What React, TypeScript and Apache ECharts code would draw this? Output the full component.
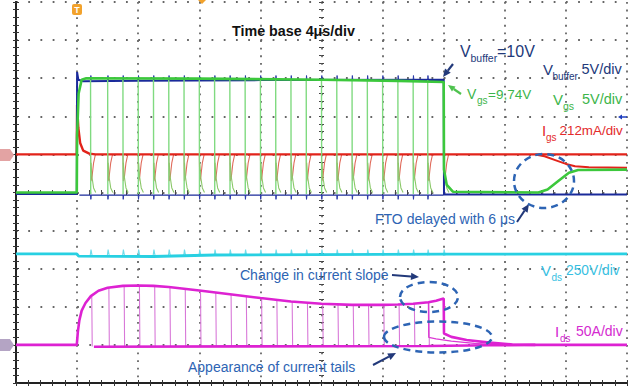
import React, { useEffect, useRef } from "react";
import * as echarts from "echarts";

// Horizontal: time in µs (4 µs/div, 10 div). Vertical: screen divisions (0..10).
const pulseTimes = [4.88, 6, 7, 8, 9, 10, 11, 12, 13, 14, 15, 16, 17, 18, 19, 20, 21, 22, 23, 24, 25, 26, 26.95];
const finalOff = 28.0;
const idsPulseTop = [2.28, 2.5, 2.55, 2.56, 2.55, 2.52, 2.48, 2.43, 2.38, 2.33, 2.28, 2.23, 2.18, 2.14, 2.11, 2.08, 2.06, 2.05, 2.05, 2.05, 2.06, 2.08, 2.12];

const vbufferTrace = [[0, 4.96], [3.98, 4.96], [4.0, 8.16], [4.08, 7.96], [4.4, 7.92], [8, 7.93], [16, 7.95], [28.0, 7.96], [28.02, 4.95], [40, 4.95]];
const vbufferLow = [[4.15, 4.93], [28, 4.93]];
const vgsTrace = [[0, 5.0], [3.98, 5.0], [4.0, 6.5], [4.1, 7.6], [4.3, 7.96], [4.6, 8.0], [12, 7.99], [20, 7.96], [25, 7.93], [28.0, 7.9], [28.02, 5.6], [28.2, 5.2], [28.6, 5.02], [34.2, 5.0], [34.8, 5.08], [35.5, 5.3], [36.2, 5.52], [36.8, 5.59], [40, 5.6]];
const igsTrace = [[0, 6.0], [3.98, 6.0], [4.0, 7.3], [4.08, 6.7], [4.2, 6.3], [4.4, 6.1], [4.8, 6.02], [5.2, 6.0], [40, 6.0]];
const igsFtoBranch = [[34.0, 6.0], [34.6, 5.95], [35.3, 5.85], [36.0, 5.75], [36.6, 5.69], [37.5, 5.66], [40, 5.65]];
const vdsTrace = [[0, 3.39], [3.98, 3.39], [4.1, 3.33], [9, 3.32], [13, 3.36], [28, 3.38], [40, 3.39]];
const idsEnvelope = [[0, 1.0], [3.98, 1.0], [4.05, 1.35], [4.15, 1.65], [4.3, 1.9], [4.55, 2.1], [4.9, 2.28], [5.4, 2.42], [6, 2.5], [7, 2.55], [8, 2.56], [9, 2.55], [10, 2.52], [12, 2.43], [14, 2.33], [16, 2.23], [18, 2.14], [20, 2.08], [22, 2.05], [24, 2.05], [25, 2.06], [26, 2.08], [27, 2.12], [27.5, 2.16], [28.0, 2.22], [28.02, 1.3], [28.5, 1.21], [29.5, 1.13], [31, 1.06], [32.5, 1.01], [34, 1.0], [40, 1.0]];
const idsLow = [[5.1, 0.95], [15, 0.96], [27, 0.97], [31, 0.99], [34, 1.0]];
const idsTail = [[27.0, 2.12], [27.02, 1.2], [27.5, 1.16], [28.5, 1.1], [30, 1.04], [31.7, 1.0]];

// pulse shapes: [offset µs, level div]
const vgsEdge = [[0, 7.95], [0.012, 4.96]];
const vgsRecovery = [[0.03, 5.78], [0.09, 5.42], [0.2, 5.12], [0.34, 5.0]];
const igsDip = [[0, 6.0], [0.03, 5.3], [0.1, 5.42], [0.2, 5.78], [0.32, 6.0]];
const vdsSpike = [[-0.02, 3.35], [0.03, 3.5], [0.1, 3.35]];
const vbufSpikeHigh = [[0, 7.95], [0.02, 8.07], [0.05, 7.95]];
const vbufSpikeLow = [[0, 4.93], [0.02, 4.82], [0.05, 4.93]];

const build = (times: number[], shape: number[][]) =>
  times.flatMap((t) => [...shape.map(([dt, v]) => [t + dt, v]), [t, "-"]]);

const FONT = '"Liberation Sans", Arial, Helvetica, sans-serif';

function txt(x: number, y: number, s: string, size: number, color: string, weight = "normal") {
  return {
    type: "text",
    x,
    y,
    z: 100,
    style: { text: s, fill: color, fontSize: size, fontFamily: FONT, fontWeight: weight, align: "left", verticalAlign: "middle" },
  };
}

function arrow(x1: number, y1: number, x2: number, y2: number, color: string, w = 2, head = 8) {
  const a = Math.atan2(y2 - y1, x2 - x1);
  const hx = x2 - head * Math.cos(a);
  const hy = y2 - head * Math.sin(a);
  const px = -Math.sin(a) * head * 0.45;
  const py = Math.cos(a) * head * 0.45;
  return [
    { type: "line", z: 100, shape: { x1, y1, x2: hx, y2: hy }, style: { stroke: color, lineWidth: w } },
    { type: "polygon", z: 100, shape: { points: [[x2, y2], [hx + px, hy + py], [hx - px, hy - py]] }, style: { fill: color } },
  ];
}

function ell(cx: number, cy: number, rx: number, ry: number, color: string) {
  return { type: "ellipse", z: 100, shape: { cx, cy, rx, ry }, style: { fill: "transparent", stroke: color, lineWidth: 2.5, lineDash: [7, 5] } };
}

const NAVY = "#22397a";
const ABLUE = "#2d64b4";
const GREEN_T = "#3cb54a";
const RED_T = "#e32b2b";
const CYAN_T = "#38bfe2";
const MAG_T = "#d42ad0";

function line(data: any[], color: string, width: number, z = 2) {
  return {
    type: "line",
    xAxisIndex: 0,
    yAxisIndex: 0,
    data,
    showSymbol: false,
    symbol: "none",
    connectNulls: false,
    z,
    lineStyle: { color, width },
    itemStyle: { color },
    silent: true,
  };
}

export default function App() {
  const ref = useRef<HTMLDivElement>(null);
  useEffect(() => {
    if (!ref.current) return;
    const chart = echarts.init(ref.current, undefined, { renderer: "svg" });
    const gridRect = { left: 16, top: 2, width: 611, height: 381 };
    const tick = { show: true, inside: true, length: 3, lineStyle: { color: "#333", width: 1 } };
    const minor = { show: true, splitNumber: 5, length: 3, lineStyle: { color: "#333", width: 1 } };
    const border = { show: true, lineStyle: { color: "#222", width: 2 } };
    const ctrTick = { show: true, inside: false, length: 2.5, lineStyle: { color: "#444", width: 1 } };
    const ctrMinor = { show: true, splitNumber: 5, length: 2.5, lineStyle: { color: "#444", width: 1 } };

    const elements: any[] = [
      txt(232, 31, "Time base 4μs/div", 14.3, "#111", "bold"),
      txt(460, 51, "V", 16, NAVY), txt(470.5, 58, "buffer", 10.5, NAVY), txt(497, 51, "=10V", 16, NAVY),
      txt(543, 69, "V", 15, NAVY), txt(552.5, 76, "buffer", 10, NAVY), txt(581.5, 69, "5V/div", 14.5, NAVY),
      txt(467, 94, "V", 14, GREEN_T), txt(477, 100, "gs", 10, GREEN_T), txt(488, 94, "=9,74V", 13.5, GREEN_T),
      txt(553, 99, "V", 15, GREEN_T), txt(563, 106, "gs", 10.5, GREEN_T), txt(582, 99, "5V/div", 14.5, GREEN_T),
      txt(542, 130, "I", 15, RED_T), txt(546, 137, "gs", 10, RED_T), txt(559.5, 130, "212mA/div", 13.4, RED_T),
      txt(375, 219, "FTO delayed with 6 μs", 14, ABLUE),
      txt(541, 270, "V", 15, CYAN_T), txt(551.5, 277.5, "ds", 10, CYAN_T), txt(566, 270, "250V/div", 13.8, CYAN_T),
      txt(240, 274.5, "Change in current slope", 14, ABLUE),
      txt(555, 331, "I", 15, MAG_T), txt(560, 338, "ds", 10, MAG_T), txt(576, 331, "50A/div", 14, MAG_T),
      txt(188, 366.5, "Appearance of current tails", 14, ABLUE),
      ...arrow(453, 64, 443, 77, NAVY, 2.2, 8),
      ...arrow(461, 94, 448, 85, "#4ec24e", 2.2, 7),
      ...arrow(517, 222, 529, 204, NAVY, 2, 8),
      ...arrow(392, 275, 419, 277, NAVY, 2, 8),
      ...arrow(373, 365, 396, 353, NAVY, 2, 8),
      ell(544, 181, 30, 27, ABLUE),
      ell(429, 297, 29, 15, ABLUE),
      ell(438, 337, 54, 15.5, ABLUE),
      { type: "polygon", z: 100, shape: { points: [[0, 149], [10, 149], [14, 155], [10, 161], [0, 161]] }, style: { fill: "#e3a3a3" } },
      { type: "polygon", z: 100, shape: { points: [[0, 339], [10, 339], [14, 345], [10, 351], [0, 351]] }, style: { fill: "#b4a4c4" } },
      { type: "polygon", z: 100, shape: { points: [[618, 117], [622, 114.5], [622, 119.5]] }, style: { fill: "#1f3fbf" } },
      { type: "line", z: 100, shape: { x1: 621, y1: 117, x2: 627, y2: 117 }, style: { stroke: "#1f3fbf", lineWidth: 1.5 } },
      { type: "rect", z: 100, shape: { x: 72, y: 4, width: 10, height: 11, r: 2 }, style: { fill: "#f2a22c" } },
      { type: "text", z: 101, x: 77, y: 9.5, style: { text: "T", fill: "#fff", fontSize: 9, fontWeight: "bold", fontFamily: FONT, align: "center", verticalAlign: "middle" } },
      { type: "polygon", z: 100, shape: { points: [[198, 0], [206, 0], [202, 4]] }, style: { fill: "#f2a22c" } },
    ];

    chart.setOption({
      animation: false,
      backgroundColor: "#ffffff",
      grid: [
        { ...gridRect },
        { ...gridRect },
      ],
      xAxis: [
        {
          gridIndex: 0, type: "value", min: 0, max: 40, interval: 4, position: "bottom",
          axisLine: border, axisTick: tick, minorTick: minor, axisLabel: { show: false },
          splitLine: { show: true, lineStyle: { color: "#666", width: 1.8, type: [1.8, 5.82] } },
        },
        {
          gridIndex: 0, type: "value", min: 0, max: 40, interval: 4, position: "top",
          axisLine: border, axisTick: tick, minorTick: minor, axisLabel: { show: false }, splitLine: { show: false },
        },
        {
          gridIndex: 1, type: "value", min: -20, max: 20, interval: 4, position: "bottom",
          axisLine: { show: false, onZero: true }, axisTick: ctrTick, minorTick: ctrMinor, axisLabel: { show: false }, splitLine: { show: false },
        },
        {
          gridIndex: 1, type: "value", min: -20, max: 20, interval: 4, position: "top",
          axisLine: { show: false, onZero: true }, axisTick: ctrTick, minorTick: ctrMinor, axisLabel: { show: false }, splitLine: { show: false },
        },
      ],
      yAxis: [
        {
          gridIndex: 0, type: "value", min: 0, max: 10, interval: 1, position: "left",
          axisLine: border, axisTick: tick, minorTick: minor, axisLabel: { show: false },
          splitLine: { show: true, lineStyle: { color: "#666", width: 1.8, type: [1.8, 10.42] } },
        },
        {
          gridIndex: 0, type: "value", min: 0, max: 10, interval: 1, position: "right",
          axisLine: border, axisTick: tick, minorTick: minor, axisLabel: { show: false }, splitLine: { show: false },
        },
        {
          gridIndex: 1, type: "value", min: -5, max: 5, interval: 1, position: "left",
          axisLine: { show: false, onZero: true }, axisTick: ctrTick, minorTick: ctrMinor, axisLabel: { show: false }, splitLine: { show: false },
        },
        {
          gridIndex: 1, type: "value", min: -5, max: 5, interval: 1, position: "right",
          axisLine: { show: false, onZero: true }, axisTick: ctrTick, minorTick: ctrMinor, axisLabel: { show: false }, splitLine: { show: false },
        },
      ],
      series: [
        line(build([...pulseTimes, finalOff], vdsSpike), "#72dcea", 1.1),
        line(vdsTrace, "#28d0e2", 2.8),
        line(pulseTimes.flatMap((t, i) => [[t + 0.08, idsPulseTop[i]], [t + 0.11, 0.96], [t, "-"]]), "#d878d8", 1.1),
        line(idsTail, "#dc3ad4", 1.3),
        line(idsLow, "#dd22d2", 2.6),
        line(idsEnvelope, "#dd22d2", 2.6),
        line(build([...pulseTimes, finalOff], igsDip), "#e06a5a", 1.1),
        line(igsTrace, "#e2231a", 2.4),
        line(igsFtoBranch, "#e2231a", 2),
        line(vbufferLow, "#1a2a9a", 1.4),
        line(build(pulseTimes, vbufSpikeHigh), "#2a3aa8", 1),
        line(build(pulseTimes, vbufSpikeLow), "#2a3aa8", 1),
        line(vbufferTrace, "#1a2a9a", 2),
        line(build(pulseTimes, vgsEdge), "#80da80", 1.4),
        line(build([...pulseTimes, finalOff], vgsRecovery), "#8cc86a", 1.1),
        line(vgsTrace, "#3cc83c", 2.6),
      ],
      graphic: elements,
    });
    return () => chart.dispose();
  }, []);
  return <div ref={ref} style={{ position: "absolute", left: 0, top: 0, width: 643, height: 387 }} />;
}
